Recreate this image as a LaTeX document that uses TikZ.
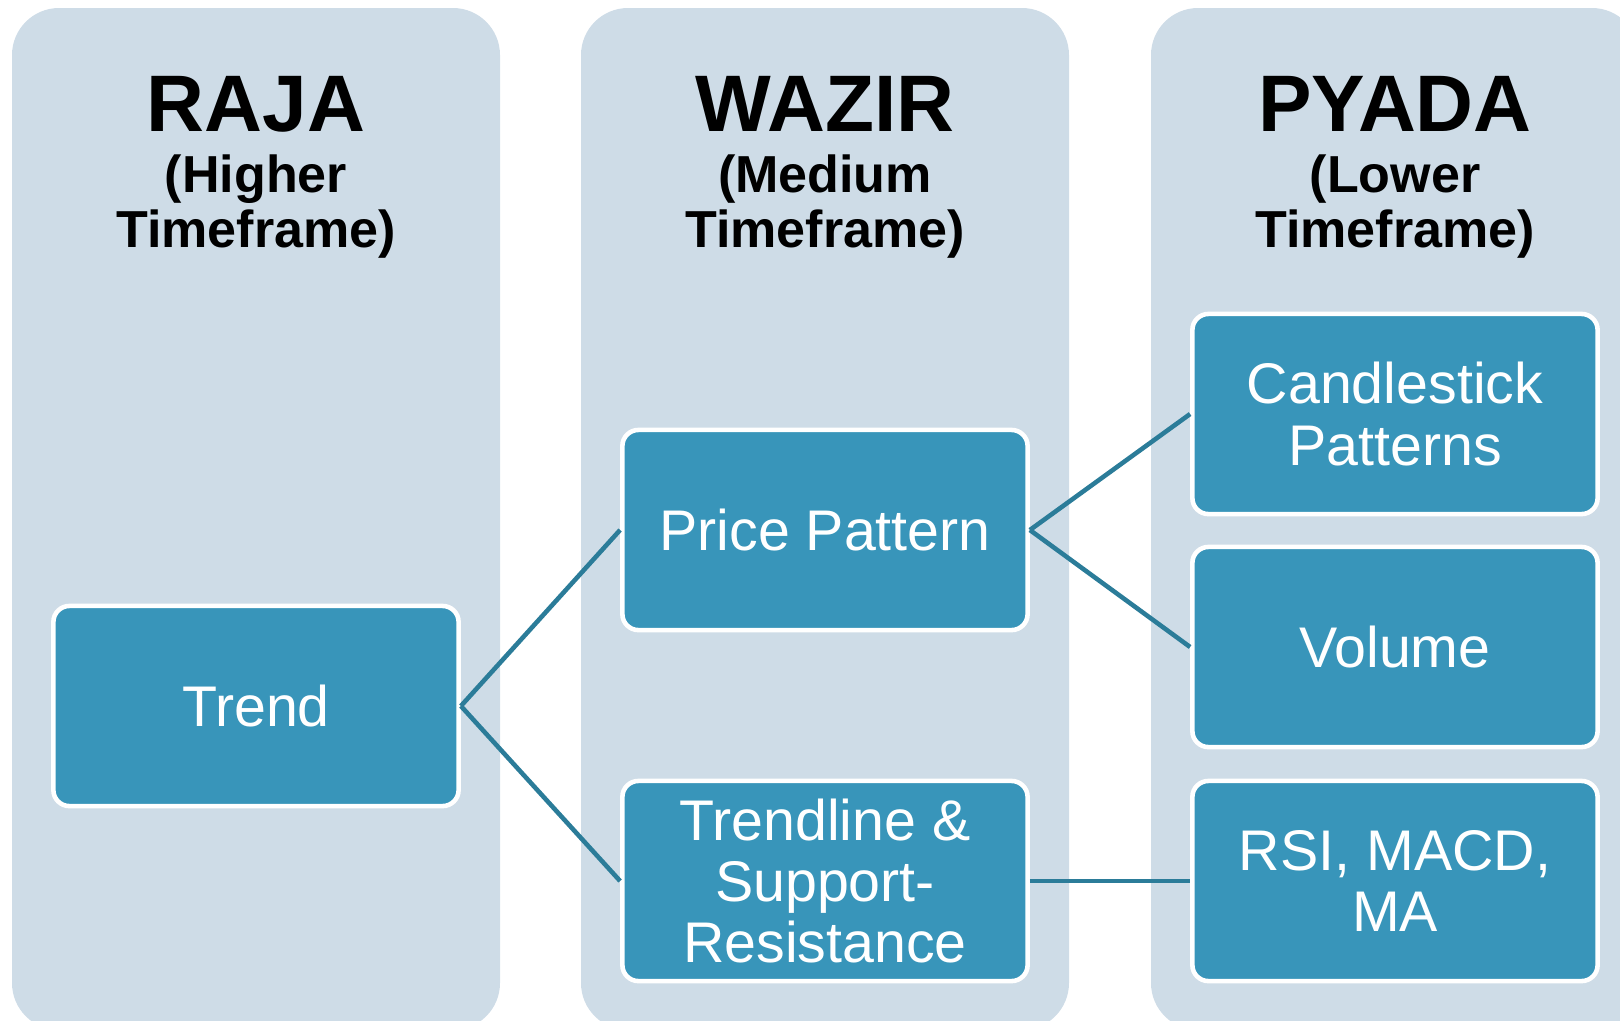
\documentclass[tikz,border=0pt]{standalone}
\usepackage{fontspec}
\setmainfont{Liberation Sans}
\usetikzlibrary{calc}

\definecolor{colbg}{HTML}{CEDCE7}
\definecolor{boxblue}{HTML}{3895BA}
\definecolor{linkblue}{HTML}{2B7C99}

\tikzset{
  column/.style={fill=colbg, rounded corners=0.47cm},
  stage/.style={draw=white, line width=1.3pt, fill=boxblue, text=white,
    rounded corners=0.16cm, minimum width=4.05cm, minimum height=2.0cm,
    inner sep=0pt, align=center, font=\fontsize{16.3}{17.4}\selectfont},
  link/.style={draw=linkblue, line width=1.3pt},
  title/.style={anchor=base, font=\fontsize{22.8}{26}\selectfont\bfseries},
  subtitle/.style={anchor=base, font=\fontsize{14.8}{15.6}\selectfont\bfseries},
}

\begin{document}
\begin{tikzpicture}[x=0.01cm, y=-0.01cm]
  \useasboundingbox (0,0) rectangle (1620,1020);
  \clip (0,0) rectangle (1620,1020);

  % Columns
  \newcommand\halfW{244}
  \foreach \cx in {256,825,1395} {
    \fill[column] (\cx-\halfW,8) rectangle (\cx+\halfW,1030);
  }

  % Column titles
  \foreach \cx/\name/\main/\upper/\lower in {256/raja/RAJA/Higher/Timeframe,
      825/wazir/WAZIR/Medium/Timeframe, 1395/pyada/PYADA/Lower/Timeframe} {
    \node[title] (\name-title) at (\cx,131) {\main};
    \node[subtitle] (\name-upper) at (\cx,192) {(\upper};
    \node[subtitle] (\name-lower) at (\cx,247) {\lower)};
  }

  % Raja
  \node[stage] (trend) at (256,706) {Trend};

  % Wazir
  \node[stage] (price)     at (825,530) {Price Pattern};
  \node[stage] (trendline) at (825,881) {Trendline \&\\Support-\\Resistance};

  % Pyada
  \node[stage] (candle) at (1395,414) {Candlestick\\Patterns};
  \node[stage] (volume) at (1395,647) {Volume};
  \node[stage] (rsi)    at (1395,881) {RSI, MACD,\\MA};

  % Links
  \draw[link] (trend.east) -- (price.west);
  \draw[link] (trend.east) -- (trendline.west);
  \draw[link] (price.east) -- (candle.west);
  \draw[link] (price.east) -- (volume.west);
  \draw[link] (trendline.east) -- (rsi.west);
\end{tikzpicture}
\end{document}
